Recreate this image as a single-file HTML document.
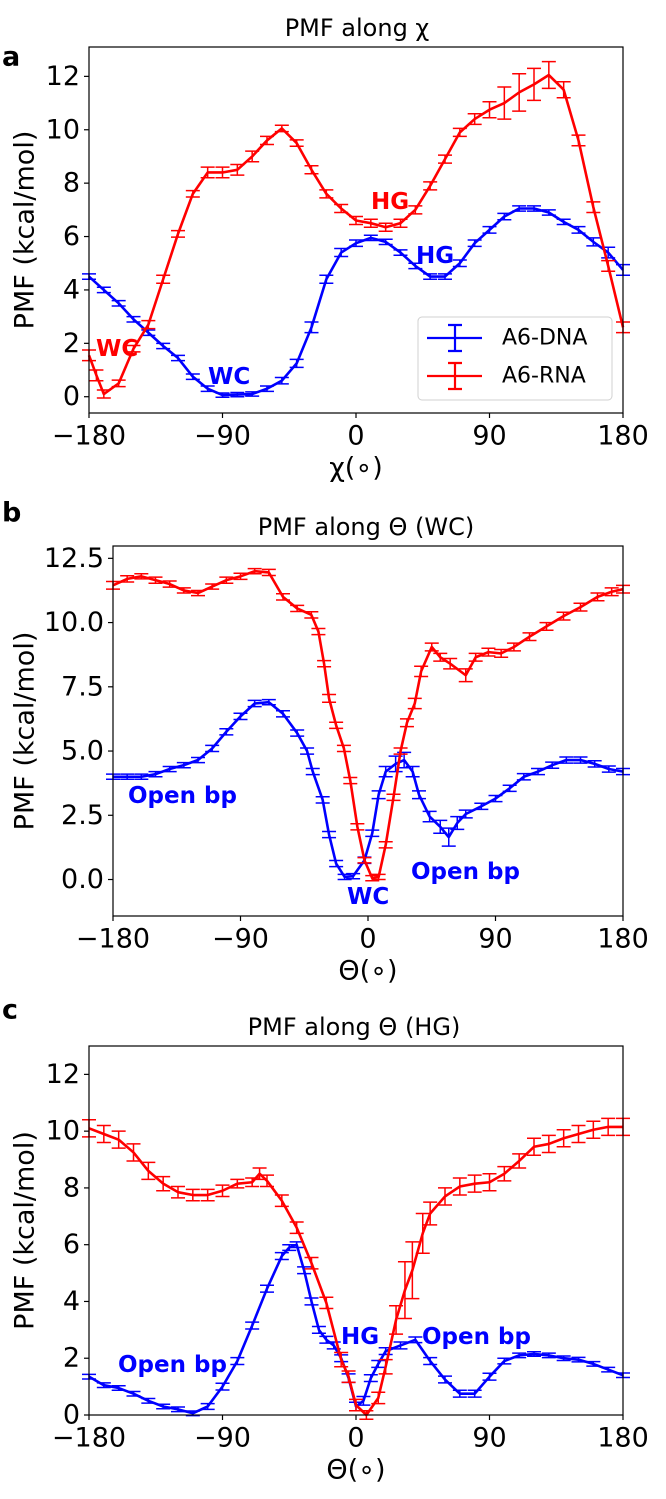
<!DOCTYPE html>
<html><head><meta charset="utf-8"><style>
html,body{margin:0;padding:0;background:#fff;}
svg{display:block;font-family:"DejaVu Sans","Liberation Sans",sans-serif;}
</style></head><body>
<svg id="fig" width="666" height="1499" viewBox="0 0 666 1499" xmlns="http://www.w3.org/2000/svg"></svg>
<script>
// ---------- Panel a: PMF along chi ----------
const aDnaX = [-180,-170,-160,-150,-140,-130,-120,-110,-100,-90,-80,-70,-60,-50,-40,-30,-20,-10,0,10,20,30,40,50,60,70,80,90,100,110,120,130,140,150,160,170,180];
const aDnaY = [4.5,4.0,3.5,2.9,2.4,1.9,1.45,0.75,0.3,0.06,0.08,0.1,0.3,0.6,1.25,2.6,4.4,5.4,5.75,5.95,5.8,5.4,4.9,4.5,4.5,5.0,5.75,6.25,6.75,7.05,7.05,6.9,6.55,6.25,5.8,5.4,4.75];
const aDnaE = [0.1,0.1,0.1,0.1,0.1,0.1,0.1,0.1,0.1,0.08,0.08,0.08,0.1,0.12,0.15,0.2,0.15,0.15,0.12,0.1,0.1,0.1,0.1,0.1,0.1,0.12,0.12,0.12,0.12,0.1,0.1,0.1,0.1,0.12,0.15,0.2,0.2];
const aRnaX = [-180,-175,-170,-160,-150,-140,-130,-120,-110,-100,-90,-80,-70,-60,-50,-40,-30,-20,-10,0,10,20,30,40,50,60,70,80,90,100,110,120,130,140,150,160,170,180];
const aRnaY = [1.55,0.8,0.1,0.5,1.8,2.7,4.4,6.1,7.6,8.4,8.4,8.5,9.0,9.6,10.05,9.5,8.5,7.6,7.05,6.6,6.5,6.35,6.5,7.0,7.9,8.9,9.9,10.4,10.75,11.0,11.4,11.7,12.05,11.5,9.6,7.1,4.9,2.6];
const aRnaE = [0.2,0.2,0.15,0.12,0.12,0.15,0.15,0.12,0.12,0.2,0.2,0.2,0.2,0.15,0.12,0.12,0.15,0.15,0.15,0.15,0.15,0.15,0.15,0.15,0.15,0.15,0.15,0.2,0.3,0.6,0.7,0.6,0.5,0.3,0.2,0.2,0.2,0.2];

// ---------- Panel b: PMF along Theta (WC) ----------
const bDnaX = [-180,-170,-160,-150,-140,-130,-120,-110,-100,-90,-80,-70,-60,-50,-43,-39,-32,-27.5,-22.5,-16.5,-10.5,-2.5,3,7.5,12.5,19.5,25.5,31.5,36,43.5,51,57,63,69,80,90,100,110,120,130,140,150,160,170,180];
const bDnaY = [4.0,4.0,4.0,4.1,4.3,4.45,4.65,5.1,5.75,6.35,6.85,6.9,6.45,5.7,5.0,4.2,3.1,1.75,0.62,0.1,0.13,0.75,1.8,3.3,4.2,4.5,4.65,4.2,3.3,2.45,2.05,1.65,2.2,2.55,2.85,3.15,3.55,4.0,4.2,4.45,4.65,4.65,4.5,4.3,4.2];
const bDnaE = [0.1,0.1,0.1,0.1,0.1,0.1,0.1,0.12,0.12,0.12,0.12,0.1,0.12,0.12,0.12,0.12,0.12,0.12,0.12,0.1,0.1,0.12,0.12,0.15,0.2,0.3,0.3,0.2,0.15,0.2,0.25,0.35,0.25,0.15,0.12,0.12,0.12,0.12,0.12,0.12,0.12,0.12,0.12,0.12,0.12];
const bRnaX = [-180,-170,-160,-150,-140,-130,-120,-110,-100,-90,-80,-70,-60,-50,-40,-35,-31,-27.5,-22.5,-17,-12.5,-7.5,-2.5,3,7.5,12.5,18,23,27.5,33,37.5,45,51,58,69,76,85,94,103,114,126,138,150,162,172,180];
const bRnaY = [11.45,11.7,11.8,11.65,11.5,11.25,11.15,11.4,11.65,11.8,12.0,11.95,11.0,10.55,10.3,9.65,8.4,7.05,6.0,5.1,3.85,2.05,0.75,0.05,0.1,1.35,3.2,5.0,6.1,6.85,8.1,9.05,8.65,8.4,7.95,8.65,8.85,8.8,9.05,9.45,9.85,10.25,10.6,11.0,11.2,11.3];
const bRnaE = [0.15,0.12,0.1,0.12,0.12,0.1,0.1,0.1,0.12,0.12,0.1,0.12,0.12,0.12,0.12,0.12,0.12,0.15,0.12,0.12,0.12,0.12,0.1,0.1,0.1,0.12,0.12,0.12,0.15,0.2,0.2,0.15,0.15,0.2,0.25,0.15,0.15,0.15,0.15,0.15,0.15,0.15,0.15,0.15,0.15,0.15];

// ---------- Panel c: PMF along Theta (HG) ----------
const cDnaX = [-180,-170,-160,-150,-140,-130,-120,-110,-100,-90,-80,-70,-60,-50,-45,-40,-35,-30,-25,-20,-15,-10,-5,0,5,10,15,20,30,40,50,60,70,80,90,100,110,120,130,140,150,160,170,180];
const cDnaY = [1.35,1.05,0.95,0.75,0.5,0.3,0.2,0.06,0.3,1.0,1.9,3.15,4.45,5.6,5.9,6.0,5.1,4.0,3.0,2.65,2.45,2.0,1.3,0.3,0.5,1.3,1.8,2.25,2.45,2.65,1.9,1.25,0.75,0.75,1.35,1.9,2.1,2.15,2.1,2.0,1.95,1.8,1.6,1.4];
const cDnaE = [0.08,0.08,0.08,0.08,0.08,0.08,0.08,0.08,0.1,0.12,0.12,0.12,0.12,0.12,0.1,0.1,0.12,0.12,0.12,0.12,0.12,0.12,0.15,0.15,0.15,0.12,0.12,0.12,0.12,0.1,0.12,0.12,0.12,0.12,0.12,0.1,0.08,0.08,0.08,0.08,0.08,0.08,0.08,0.08];
const cRnaX = [-180,-170,-160,-150,-140,-130,-120,-110,-100,-90,-80,-70,-65,-60,-50,-40,-30,-20,-10,-5,0,7,15,20,27,33,38,45,50,60,70,80,90,100,110,120,130,140,150,160,170,180];
const cRnaY = [10.1,9.9,9.7,9.25,8.6,8.15,7.85,7.75,7.75,7.9,8.15,8.2,8.5,8.25,7.55,6.6,5.35,3.95,1.95,1.35,0.35,0.0,0.6,1.7,3.35,4.4,5.1,6.4,7.1,7.7,8.05,8.15,8.2,8.5,8.95,9.45,9.55,9.75,9.9,10.05,10.15,10.15];
const cRnaE = [0.3,0.3,0.3,0.3,0.3,0.25,0.2,0.2,0.2,0.2,0.15,0.15,0.2,0.2,0.2,0.2,0.2,0.2,0.25,0.2,0.2,0.15,0.2,0.25,0.5,1.0,1.0,0.7,0.4,0.3,0.3,0.3,0.3,0.25,0.25,0.3,0.3,0.3,0.3,0.3,0.3,0.3];

const xTickVals = [-180,-90,0,90,180];
const xTickLabels = ["\u2212180","\u221290","0","90","180"];
const aYTicks = [0,2,4,6,8,10,12];
const aYTickLabels = ["0","2","4","6","8","10","12"];
const bYTicks = [0,2.5,5,7.5,10,12.5];
const bYTickLabels = ["0.0","2.5","5.0","7.5","10.0","12.5"];
const cYTicks = [0,2,4,6,8,10,12];
const cYTickLabels = ["0","2","4","6","8","10","12"];

const NS = "http://www.w3.org/2000/svg";
const svg = document.getElementById('fig');
function mk(tag, attrs, parent){
  const e = document.createElementNS(NS, tag);
  for (const k in attrs) e.setAttribute(k, attrs[k]);
  (parent||svg).appendChild(e);
  return e;
}
function txt(str, attrs, parent){ const t = mk('text', attrs, parent); t.textContent = str; return t; }

const BLUE = "#0000ff", RED = "#ff0000";
const FS = 27;

function panel(cfg){
  const g = mk('g', {});
  
  
  const sx = v => cfg.left + (v + 180) / 360 * (cfg.right - cfg.left);
  const sy = v => cfg.bottom - (v - cfg.ymin) / (cfg.ymax - cfg.ymin) * (cfg.bottom - cfg.top);
  cfg.series.forEach(s => {
    const sg = mk('g', {}, g);
    
    
    let d = '';
    s.x.forEach((xv, i) => { d += (i ? 'L' : 'M') + sx(xv).toFixed(2) + ',' + sy(s.y[i]).toFixed(2); });
    const p = mk('path', {d: d, fill: 'none', stroke: s.color, 'stroke-width': 2.6, 'stroke-linejoin': 'round'}, sg);
    
    
    s.x.forEach((xv, i) => {
      const cx = sx(xv), y1 = sy(s.y[i] - s.e[i]), y2 = sy(s.y[i] + s.e[i]);
      const eb = mk('path', {d: `M${cx},${y1}L${cx},${y2}M${cx-7},${y1}L${cx+7},${y1}M${cx-7},${y2}L${cx+7},${y2}`, stroke: s.color, 'stroke-width': 1.5, fill: 'none'}, sg);
      
      
    });
  });
  const fr = mk('rect', {x: cfg.left, y: cfg.top, width: cfg.right - cfg.left, height: cfg.bottom - cfg.top, fill: 'none', stroke: '#000', 'stroke-width': 1.2}, g);
  
  
  xTickVals.forEach((v, i) => {
    const x = sx(v);
    const tk = mk('line', {x1: x, x2: x, y1: cfg.bottom, y2: cfg.bottom + 5, stroke: '#000', 'stroke-width': 1.2}, g);
    
    
    const tl = txt(xTickLabels[i], {x: x, y: cfg.bottom + 23, 'font-size': FS, 'text-anchor': 'middle', 'dominant-baseline': 'central'}, g);
    
    
  });
  cfg.yticks.forEach((v, i) => {
    const y = sy(v);
    const tk = mk('line', {x1: cfg.left - 5, x2: cfg.left, y1: y, y2: y, stroke: '#000', 'stroke-width': 1.2}, g);
    
    
    const tl = txt(cfg.ylabels[i], {x: cfg.left - 9, y: y, 'font-size': FS, 'text-anchor': 'end', 'dominant-baseline': 'central'}, g);
    
    
  });
  const xt = txt(cfg.xtitle, {x: (cfg.left + cfg.right) / 2, y: cfg.bottom + 55, 'font-size': FS, 'text-anchor': 'middle', 'dominant-baseline': 'central'}, g);
  
  
  const ycy = (cfg.top + cfg.bottom) / 2;
  const yt = txt('PMF (kcal/mol)', {x: 25, y: ycy, 'font-size': FS, 'text-anchor': 'middle', 'dominant-baseline': 'central', transform: `rotate(-90 25 ${ycy})`}, g);
  
  
  const ti = txt(cfg.title, {x: cfg.titleX, y: cfg.top - 19, 'font-size': 24, 'text-anchor': 'middle', 'dominant-baseline': 'central'}, g);
  
  
  const pl = txt(cfg.letter, {x: 2, y: cfg.letterY, 'font-size': 27, 'font-weight': 'bold', 'dominant-baseline': 'central'}, g);
  
  
  cfg.notes.forEach(n => {
    const t = txt(n[0], {x: n[1], y: n[2], 'font-size': 23, 'font-weight': 'bold', fill: n[3], 'dominant-baseline': 'central'}, g);
    
    
  });
  return g;
}

panel({name: 'panel-a-chart', left: 89, right: 623, top: 47, bottom: 413, ymin: -0.61, ymax: 13.1,
  yticks: aYTicks, ylabels: aYTickLabels, xtitle: '\u03c7(\u2218)', title: 'PMF along \u03c7', titleX: 357, letter: 'a', letterY: 57,
  series: [{name: 'a6-dna-series', x: aDnaX, y: aDnaY, e: aDnaE, color: BLUE}, {name: 'a6-rna-series', x: aRnaX, y: aRnaY, e: aRnaE, color: RED}],
  notes: [['WC', 96, 349, RED], ['HG', 371, 202, RED], ['HG', 416, 256, BLUE], ['WC', 208, 377, BLUE]]});

panel({name: 'panel-b-chart', left: 113, right: 623, top: 546, bottom: 916, ymin: -1.42, ymax: 12.98,
  yticks: bYTicks, ylabels: bYTickLabels, xtitle: '\u0398(\u2218)', title: 'PMF along \u0398 (WC)', titleX: 366, letter: 'b', letterY: 513,
  series: [{name: 'a6-dna-series', x: bDnaX, y: bDnaY, e: bDnaE, color: BLUE}, {name: 'a6-rna-series', x: bRnaX, y: bRnaY, e: bRnaE, color: RED}],
  notes: [['Open bp', 128, 796, BLUE], ['Open bp', 411, 872, BLUE], ['WC', 347, 897, BLUE]]});

panel({name: 'panel-c-chart', left: 89, right: 623, top: 1046, bottom: 1415, ymin: 0, ymax: 13.0,
  yticks: cYTicks, ylabels: cYTickLabels, xtitle: '\u0398(\u2218)', title: 'PMF along \u0398 (HG)', titleX: 354, letter: 'c', letterY: 1010,
  series: [{name: 'a6-dna-series', x: cDnaX, y: cDnaY, e: cDnaE, color: BLUE}, {name: 'a6-rna-series', x: cRnaX, y: cRnaY, e: cRnaE, color: RED}],
  notes: [['Open bp', 118, 1365, BLUE], ['HG', 341, 1337, BLUE], ['Open bp', 422, 1337, BLUE]]});

const lg = mk('g', {});


const lb = mk('rect', {x: 418, y: 317, width: 194, height: 83, rx: 4, fill: '#fff', 'fill-opacity': 0.85, stroke: '#d0d0d0', 'stroke-width': 1}, lg);


[['A6-DNA', BLUE, 338], ['A6-RNA', RED, 376]].forEach(en => {
  const eg = mk('g', {}, lg);
  
  
  mk('path', {d: `M427,${en[2]}L482,${en[2]}M455,${en[2]-13}L455,${en[2]+13}M448,${en[2]-13}L462,${en[2]-13}M448,${en[2]+13}L462,${en[2]+13}`, stroke: en[1], 'stroke-width': 2.2, fill: 'none'}, eg);
  txt(en[0], {x: 502, y: en[2], 'font-size': 22, 'dominant-baseline': 'central'}, eg);
});
</script>
</body></html>
